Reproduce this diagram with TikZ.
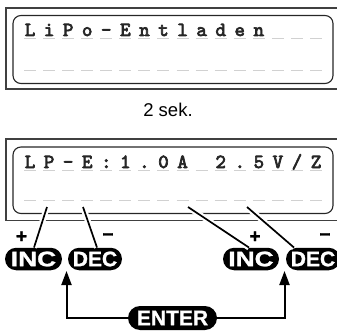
\documentclass[tikz,border=0pt]{standalone}
\usepackage{fontspec}
\setmainfont{Liberation Sans}
\newfontfamily\pillfont{Liberation Sans}[BoldFeatures={FakeBold=1.2}]
\newfontfamily\lcdfont{lmmono10-regular}[Extension=.otf,FakeBold=3.5]
\usetikzlibrary{shapes.misc,arrows.meta}
\newcommand{\pilltxt}[2]{\scalebox{#1}[1]{#2}}
\begin{document}
\begin{tikzpicture}[x=1pt,y=-1pt,
  frame/.style={draw=black!75,line width=1.1pt},
  lcd/.style={draw=black!85,line width=1.1pt,rounded corners=8pt},
  lcddash/.style={draw=black!18,line width=1pt},
  lcdchar/.style={font=\lcdfont\fontsize{20}{20}\selectfont,text=black!85,inner sep=0pt,anchor=base},
  pill/.style={rounded rectangle,fill=black,text=white,inner sep=0pt,minimum height=22.5pt,
    font=\pillfont\bfseries\fontsize{21}{21}\selectfont},
  sign/.style={font=\pillfont\bfseries\fontsize{19}{19}\selectfont,inner sep=0pt},
  leader/.style={line width=1.7pt,draw=black,preaction={draw=white,line width=6pt}},
  arrowline/.style={line width=2pt,-{Triangle[length=14pt,width=10pt]}}]
\useasboundingbox (0,0) rectangle (337,331);
% ---- panel 1
\draw[frame] (6,8) rectangle (345,89);
\draw[lcd] (13,15.5) rectangle (333,83.5);
\foreach \i in {0,...,15} {
  \draw[lcddash] ({30+19.07*\i-6},38.5) -- ++(12,0);
  \draw[lcddash] ({30+19.07*\i-6},71) -- ++(12,0);
}
\foreach \c [count=\i from 0] in {L,i,P,o,-,E,n,t,l,a,d,e,n}
  \node[lcdchar] (a\i) at ({30+19.07*\i},36) {\c};
\node[font=\fontsize{18.5}{18.5}\selectfont,inner sep=0pt,anchor=base] (sek) at (168,117) {2 sek.};
% ---- panel 2
\draw[frame] (6,139) rectangle (345,220.5);
\draw[lcd] (13,147) rectangle (333,213.5);
\foreach \i in {0,...,15} {
  \draw[lcddash] ({30+19.07*\i-6},171) -- ++(12,0);
  \draw[lcddash] ({30+19.07*\i-6},200.5) -- ++(12,0);
}
\foreach \c [count=\i from 0] in {L,P,-,E,:,1,.,0,A,{},2,.,5,V,/,Z}
  \node[lcdchar] (b\i) at ({30+19.07*\i},168) {\c};
% ---- buttons
\node[pill,minimum width=57pt] (inc1) at (33.5,259) {\pilltxt{1.25}{INC}};
\node[pill,minimum width=54pt] (dec1) at (95,259) {\pilltxt{1.0}{DEC}};
\node[pill,minimum width=56pt] (inc2) at (251,259) {\pilltxt{1.25}{INC}};
\node[pill,minimum width=54pt] (dec2) at (313,259) {\pilltxt{1.0}{DEC}};
\node[pill,minimum width=89pt,minimum height=24pt] (enter) at (172.5,318) {\pilltxt{1.0}{ENTER}};
% ---- signs
\node[sign] (p1) at (21.5,237) {+};
\node[sign] (m1) at (108,237) {\symbol{"2212}};
\node[sign] (p2) at (255,237) {+};
\node[sign] (m2) at (325,237) {\symbol{"2212}};
% ---- leaders
\coordinate (l1) at (47,207);
\coordinate (l2) at (83,207);
\coordinate (l3) at (188,207);
\coordinate (l4) at (247,207);
\draw[leader] (l1) -- (inc1.north -| 34,248);
\draw[leader] (l2) -- (dec1.north -| 97,248);
\draw[leader] (l3) -- (inc2.north -| 249,248);
\draw[leader] (l4) -- (dec2.north -| 294,248);
% ---- enter arrows
\coordinate (t1) at (66.5,271);
\coordinate (t2) at (284.5,271);
\draw[arrowline] (enter.west) -| (t1);
\draw[arrowline] (enter.east) -| (t2);
\end{tikzpicture}
\end{document}
